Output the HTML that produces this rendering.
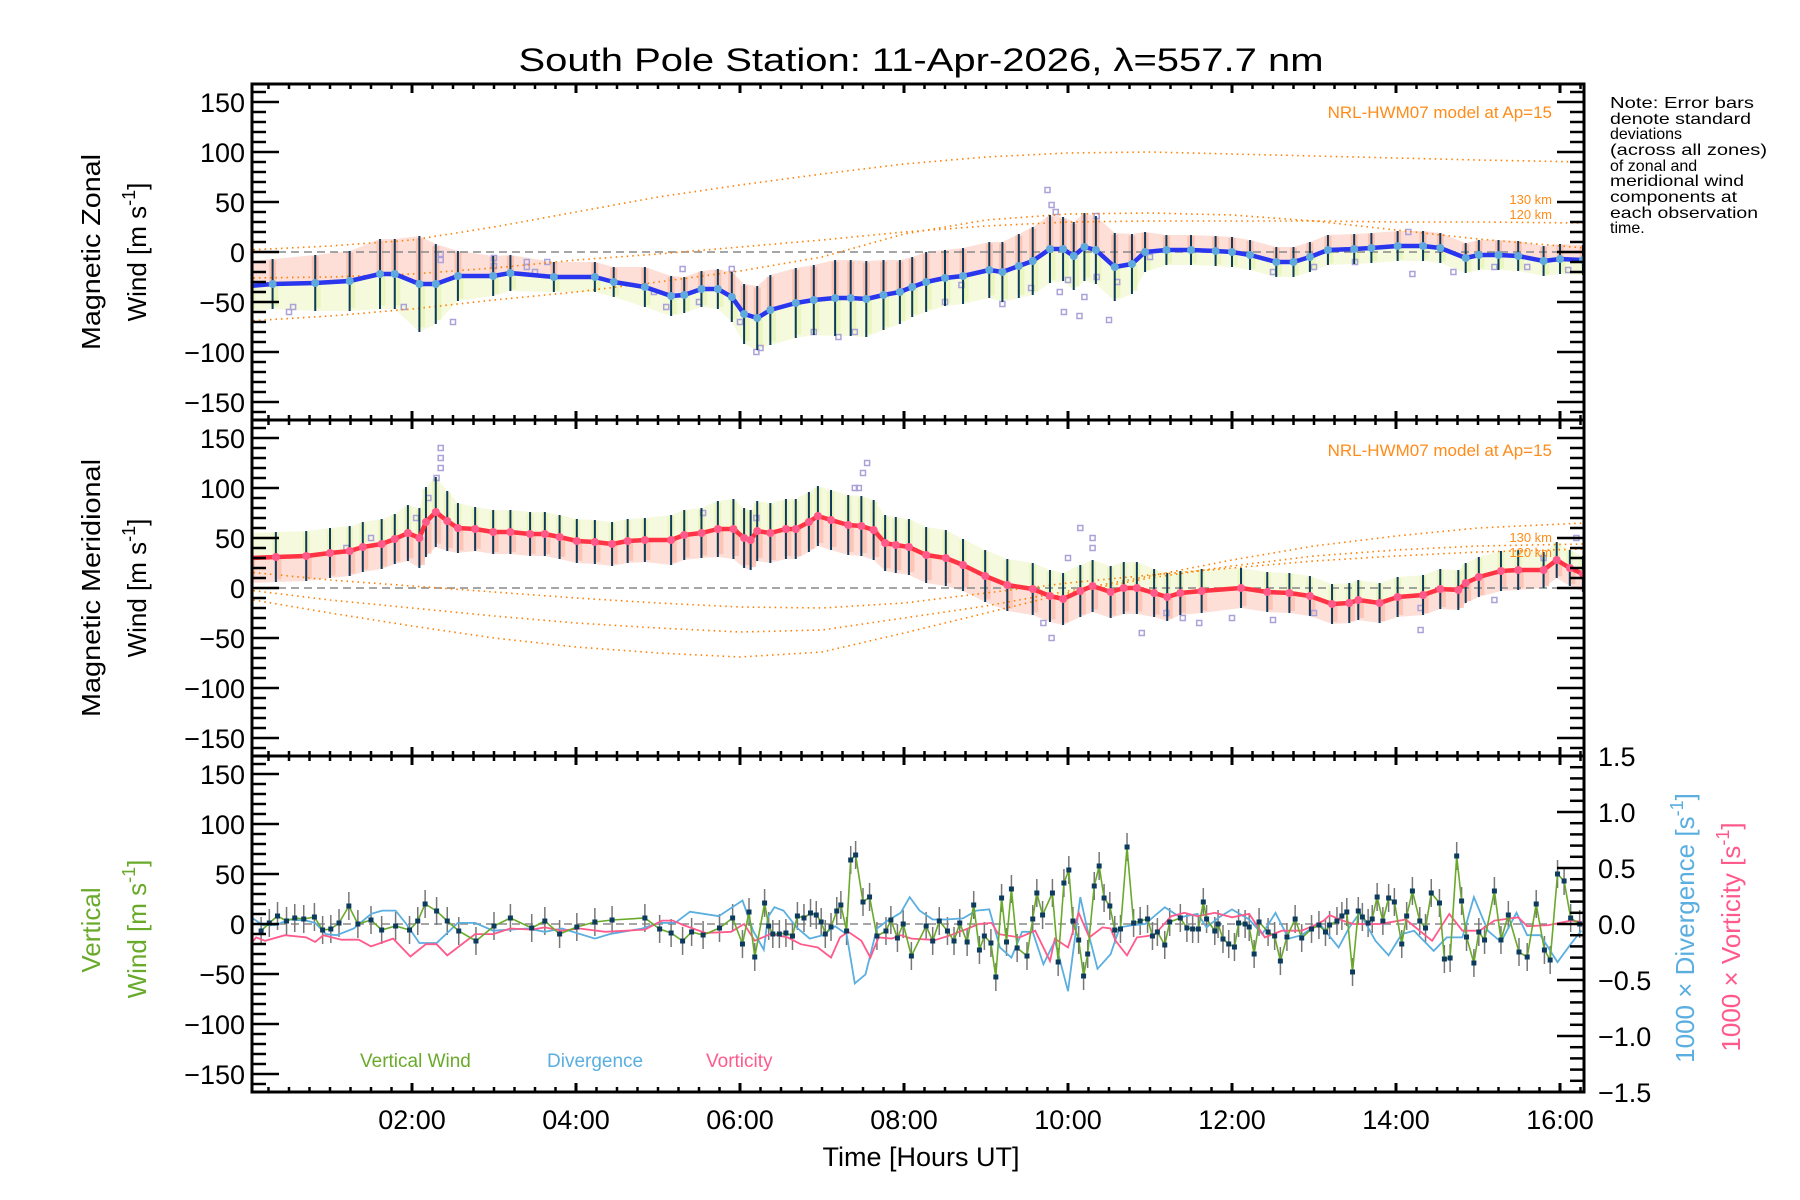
<!DOCTYPE html>
<html><head><meta charset="utf-8"><title>South Pole Station winds</title>
<style>
html,body{margin:0;padding:0;background:#fff;}
svg{display:block;font-family:"Liberation Sans",sans-serif;}
</style></head>
<body>
<svg id="chart" width="1800" height="1200" viewBox="0 0 1800 1200" xmlns="http://www.w3.org/2000/svg">
<defs>
<clipPath id="c1"><rect x="252" y="84" width="1332" height="336"/></clipPath>
<clipPath id="c2"><rect x="252" y="420" width="1332" height="336"/></clipPath>
<clipPath id="c3"><rect x="252" y="756" width="1332" height="336"/></clipPath>
</defs>
<text x="921" y="71" font-size="32" text-anchor="middle" textLength="805" lengthAdjust="spacingAndGlyphs">South Pole Station: 11-Apr-2026, λ=557.7 nm</text>

<g id="p1"></g>
<g id="p2"></g>
<g id="p3"></g>
<g id="axes"></g>

<text transform="translate(100,252) rotate(-90)" font-size="26" text-anchor="middle" textLength="196" lengthAdjust="spacingAndGlyphs">Magnetic Zonal</text>
<text transform="translate(146,252) rotate(-90)" font-size="26" text-anchor="middle">Wind [m s<tspan dy="-11" font-size="18">-1</tspan><tspan dy="11">]</tspan></text>
<text transform="translate(100,588) rotate(-90)" font-size="26" text-anchor="middle" textLength="258" lengthAdjust="spacingAndGlyphs">Magnetic Meridional</text>
<text transform="translate(146,588) rotate(-90)" font-size="26" text-anchor="middle">Wind [m s<tspan dy="-11" font-size="18">-1</tspan><tspan dy="11">]</tspan></text>
<text transform="translate(100,930) rotate(-90)" font-size="26" fill="#6aaa2a" text-anchor="middle">Vertical</text>
<text transform="translate(146,929) rotate(-90)" font-size="26" fill="#6aaa2a" text-anchor="middle">Wind [m s<tspan dy="-11" font-size="18">-1</tspan><tspan dy="11">]</tspan></text>
<text transform="translate(1694,928) rotate(-90)" font-size="26" fill="#5aaee0" text-anchor="middle">1000 × Divergence [s<tspan dy="-11" font-size="18">-1</tspan><tspan dy="11">]</tspan></text>
<text transform="translate(1740,937) rotate(-90)" font-size="26" fill="#ff5a8c" text-anchor="middle">1000 × Vorticity [s<tspan dy="-11" font-size="18">-1</tspan><tspan dy="11">]</tspan></text>
<text x="921" y="1166" font-size="27" text-anchor="middle">Time [Hours UT]</text>

<text x="1552" y="118" font-size="17" fill="#ff8c1a" text-anchor="end">NRL-HWM07 model at Ap=15</text>
<text x="1552" y="204" font-size="13" fill="#ff8c1a" text-anchor="end">130 km</text>
<text x="1552" y="219" font-size="13" fill="#ff8c1a" text-anchor="end">120 km</text>
<text x="1552" y="456" font-size="17" fill="#ff8c1a" text-anchor="end">NRL-HWM07 model at Ap=15</text>
<text x="1552" y="542" font-size="13" fill="#ff8c1a" text-anchor="end">130 km</text>
<text x="1552" y="557" font-size="13" fill="#ff8c1a" text-anchor="end">120 km</text>

<text x="360" y="1067" font-size="19" fill="#6aaa2a">Vertical Wind</text>
<text x="547" y="1067" font-size="19" fill="#5aaee0">Divergence</text>
<text x="706" y="1067" font-size="19" fill="#ff5a8c">Vorticity</text>

<g font-size="16" fill="#000">
<text x="1610" y="108" textLength="144" lengthAdjust="spacingAndGlyphs">Note: Error bars</text>
<text x="1610" y="124" textLength="141" lengthAdjust="spacingAndGlyphs">denote standard</text>
<text x="1610" y="139">deviations</text>
<text x="1610" y="155" textLength="157" lengthAdjust="spacingAndGlyphs">(across all zones)</text>
<text x="1610" y="171">of zonal and</text>
<text x="1610" y="186" textLength="134" lengthAdjust="spacingAndGlyphs">meridional wind</text>
<text x="1610" y="202" textLength="127" lengthAdjust="spacingAndGlyphs">components at</text>
<text x="1610" y="218" textLength="148" lengthAdjust="spacingAndGlyphs">each observation</text>
<text x="1610" y="233">time.</text>
</g>
</svg>

<script>
// ---------- data ----------
const zonalT = [0.02,0.3,0.82,1.24,1.61,1.79,2.09,2.29,2.56,2.99,3.2,3.73,4.23,4.46,4.84,5.16,5.32,5.53,5.73,5.9,6.05,6.21,6.37,6.68,6.9,7.16,7.35,7.54,7.75,7.95,8.1,8.27,8.5,8.72,9.04,9.2,9.4,9.57,9.78,9.94,10.07,10.2,10.34,10.57,10.78,10.94,11.2,11.5,11.8,12.0,12.22,12.54,12.75,12.95,13.17,13.49,13.7,14.02,14.33,14.54,14.85,15.01,15.25,15.49,15.8,16.0,16.28];
const zonalV = [-34,-32,-31,-29,-22,-22,-32,-32,-24,-24,-21,-25,-25,-30,-35,-44,-43,-37,-37,-45,-62,-66,-58,-51,-48,-46,-46,-47,-43,-40,-35,-30,-26,-24,-18,-20,-14,-9,3,3,-4,5,2,-15,-12,0,2,2,1,0,-3,-10,-10,-5,2,3,4,6,6,4,-6,-3,-3,-4,-9,-7,-8];
const zonalStd = [25,25,28,30,35,35,48,40,25,20,18,15,15,15,20,20,18,18,20,25,30,32,35,35,35,38,38,38,35,32,30,30,28,28,28,30,32,34,34,32,34,34,34,34,30,20,15,15,15,15,15,15,15,15,15,15,15,15,15,15,15,15,15,15,15,15,15];

const merT = [0.02,0.34,0.71,1.0,1.24,1.4,1.63,1.79,1.95,2.09,2.17,2.29,2.43,2.56,2.77,2.99,3.2,3.44,3.62,3.8,4.01,4.23,4.44,4.63,4.84,5.16,5.32,5.53,5.73,5.92,6.05,6.13,6.21,6.37,6.56,6.68,6.84,6.95,7.11,7.32,7.48,7.63,7.77,7.9,8.06,8.27,8.51,8.72,8.99,9.26,9.57,9.78,9.94,10.15,10.3,10.52,10.68,10.84,11.05,11.21,11.37,11.63,12.11,12.43,12.7,12.95,13.22,13.43,13.54,13.8,14.02,14.33,14.54,14.76,14.85,15.01,15.28,15.49,15.8,15.96,16.12,16.28];
const merV = [30,31,32,35,37,41,44,49,55,50,66,76,67,60,59,56,56,54,54,51,47,46,44,47,48,48,53,55,59,59,50,48,57,55,59,59,66,72,68,63,62,58,45,43,41,33,30,23,12,3,-1,-8,-11,-3,2,-4,0,0,-5,-9,-5,-3,0,-4,-5,-8,-16,-15,-12,-15,-9,-7,-1,-2,5,11,17,18,18,28,20,14];
const merStd = [25,25,25,25,25,25,25,25,28,30,35,35,30,25,22,22,22,22,22,22,22,22,22,22,22,25,25,25,28,30,30,30,30,30,30,30,30,30,30,30,30,30,28,28,28,28,28,26,26,26,26,26,26,26,26,26,26,26,24,24,22,22,20,20,20,20,20,20,20,20,20,20,20,20,20,20,20,20,18,18,18,18];

const zonalOutT = [0.5,0.55,1.9,2.35,2.35,2.5,3.0,3.0,3.4,3.4,3.5,3.65,4.95,5.1,5.3,5.5,5.9,6.0,6.2,6.25,6.9,7.2,7.4,8.5,8.7,9.2,9.55,9.75,9.8,9.85,9.9,9.95,10.0,10.14,10.2,10.35,10.35,10.5,10.6,11.0,12.5,13.0,13.5,14.15,14.2,14.7,15.2,15.6,16.1];
const zonalOutV = [-60,-55,-55,-2,-8,-70,-6,-14,-15,-10,-20,-10,-40,-55,-17,-50,-17,-70,-100,-96,-80,-85,-80,-50,-33,-52,-36,62,47,40,-40,-60,-28,-64,-45,-25,36,-68,-30,-5,-20,-15,-10,20,-22,-20,-15,-15,-18];
const merOutT = [1.2,1.5,2.05,2.2,2.3,2.35,2.35,2.35,5.55,6.2,7.4,7.45,7.5,7.55,9.7,9.8,10.0,10.15,10.3,10.3,10.9,11.2,11.4,11.6,12.0,12.5,13.0,14.3,14.3,15.2,15.8,16.2];
const merOutV = [40,50,70,90,110,120,130,140,75,70,100,100,115,125,-35,-50,30,60,50,40,-45,-25,-30,-35,-30,-32,-25,-20,-42,-12,30,50];

const modelT = [0,1,2,3,4,5,6,7,8,9,10,11,12,13,14,15,16.3];
const zonalModelA = [2,6,12,25,40,55,67,78,88,95,99,100,98,96,94,92,90];
const zonalModelB = [-69,-64,-57,-48,-40,-30,-19,-5,18,32,38,39,37,31,22,13,4];
const zonalModelC = [-26,-25,-22,-16,-8,-2,5,12,20,26,30,31,31,31,30,30,29];
const merModelP = [16,8,2,-4,-10,-15,-19,-20,-15,-5,5,13,20,27,32,36,39];
const merModelQ = [-2,-12,-20,-28,-35,-40,-44,-42,-30,-18,-3,12,28,42,52,60,65];
const merModelR = [-11,-25,-38,-50,-59,-65,-69,-64,-45,-25,-5,10,22,32,38,42,44];

const vertT = [0.16,0.26,0.36,0.47,0.57,0.68,0.81,0.91,1.01,1.11,1.23,1.34,1.50,1.63,1.80,1.97,2.07,2.16,2.30,2.43,2.57,2.78,3.00,3.20,3.46,3.62,3.80,4.01,4.23,4.44,4.84,5.02,5.16,5.30,5.41,5.55,5.75,5.91,6.03,6.11,6.18,6.30,6.35,6.40,6.48,6.56,6.64,6.70,6.78,6.86,6.93,6.99,7.04,7.11,7.18,7.23,7.30,7.35,7.41,7.50,7.58,7.67,7.78,7.84,7.92,7.99,8.09,8.27,8.35,8.43,8.53,8.61,8.68,8.77,8.85,8.92,8.98,9.06,9.12,9.19,9.25,9.31,9.38,9.50,9.57,9.62,9.69,9.81,9.88,9.95,10.01,10.06,10.13,10.19,10.24,10.32,10.38,10.44,10.51,10.57,10.64,10.72,10.80,10.88,10.97,11.03,11.09,11.18,11.24,11.37,11.45,11.52,11.59,11.65,11.69,11.79,11.83,11.89,11.96,12.03,12.08,12.16,12.21,12.27,12.33,12.44,12.52,12.59,12.67,12.77,12.85,12.97,13.06,13.14,13.19,13.28,13.34,13.40,13.47,13.54,13.59,13.66,13.71,13.77,13.84,13.91,13.98,14.07,14.13,14.20,14.29,14.36,14.43,14.53,14.59,14.66,14.74,14.80,14.86,14.95,15.01,15.08,15.20,15.28,15.37,15.50,15.60,15.71,15.81,15.88,15.97,16.05,16.13,16.24];
const vertV = [-7,1,8,3,6,5,7,-6,-5,1,18,0,4,-6,-2,-6,3,20,13,3,-7,-17,-2,6,-4,3,-10,-3,2,4,6,-5,-9,-17,-8,-11,-4,6,-20,12,-33,21,-2,-10,-10,-9,-12,8,6,11,9,2,-10,-3,13,19,-7,64,69,22,27,-12,-7,4,-14,0,-32,-2,-17,3,-7,-17,1,-18,19,-26,-12,-19,-53,26,-18,35,-24,-32,5,31,9,31,-38,41,54,3,-16,-52,-30,38,58,26,18,-6,-5,77,1,3,5,-12,-8,-21,2,6,-4,-5,-5,22,5,-7,0,-15,-20,-23,1,0,-3,-30,2,-8,-12,-37,-13,5,-14,-5,-1,-8,-1,3,8,12,-48,13,7,1,5,27,3,26,22,-20,8,33,3,-4,31,21,-35,-34,68,23,-13,-39,-8,-16,33,-16,9,-28,-33,20,-26,-36,50,43,6,0];
const vertErr = 14;

const divT = [0.02,0.18,0.34,0.50,0.71,0.82,0.95,1.08,1.29,1.50,1.64,1.80,1.93,2.09,2.30,2.56,2.77,2.99,3.2,3.41,3.62,3.83,4.23,4.41,4.81,5.0,5.21,5.39,5.74,6.03,6.16,6.29,6.34,6.42,6.53,6.69,6.85,7.01,7.16,7.30,7.40,7.53,7.67,7.80,7.96,8.07,8.19,8.35,8.51,8.72,8.88,9.04,9.17,9.31,9.44,9.57,9.70,9.84,10.0,10.15,10.23,10.36,10.52,10.63,10.79,10.94,11.18,11.37,11.58,11.69,11.84,12.0,12.21,12.37,12.53,12.69,12.85,13.06,13.30,13.43,13.56,13.75,13.91,14.07,14.22,14.46,14.62,14.81,14.95,15.12,15.28,15.47,15.60,15.76,15.97,16.13,16.26];
const divV = [0.07,-0.01,-0.01,0.04,0.03,0.01,-0.09,-0.10,-0.04,0.09,0.12,0.12,0,-0.17,-0.17,0.01,0.01,-0.06,-0.05,-0.04,-0.07,-0.04,-0.13,-0.09,-0.04,0.01,0.01,0.11,0.07,0.21,-0.06,-0.23,0.06,0.15,0.12,-0.03,-0.13,-0.10,-0.02,-0.09,-0.53,-0.45,-0.04,0.03,0.10,0.24,0.12,0.04,0.04,0.05,0.12,0.13,-0.21,-0.30,-0.07,-0.07,-0.36,-0.15,-0.60,0.24,-0.03,-0.40,-0.27,-0.03,-0.01,0,0.15,0.06,0.09,-0.03,0.06,0.13,0.04,-0.09,0.10,-0.13,-0.10,0.01,-0.21,-0.03,0.10,-0.15,-0.28,-0.09,-0.06,-0.24,-0.12,-0.12,0.24,-0.06,-0.16,0.10,-0.10,-0.10,-0.34,-0.18,-0.06];

const vortT = [0.02,0.10,0.21,0.45,0.71,0.82,0.92,1.14,1.35,1.50,1.77,1.98,2.17,2.30,2.43,2.77,2.99,3.2,3.46,3.62,3.83,4.04,4.36,4.84,5.05,5.18,5.31,5.58,5.89,6.05,6.18,6.37,6.58,6.74,6.95,7.11,7.22,7.32,7.48,7.59,7.69,7.85,7.96,8.09,8.32,8.35,8.57,8.78,8.91,9.07,9.15,9.41,9.60,9.78,9.84,10.0,10.13,10.26,10.42,10.52,10.58,10.72,10.84,11.05,11.26,11.42,11.58,11.79,12.0,12.21,12.40,12.61,12.85,12.98,13.12,13.19,13.35,13.48,13.80,13.96,14.12,14.44,14.65,14.81,15.02,15.20,15.49,15.60,15.86,16.13,16.26];
const vortV = [-0.19,-0.12,-0.15,-0.10,-0.12,-0.16,-0.10,-0.14,-0.14,-0.20,-0.13,-0.29,-0.18,-0.18,-0.28,-0.09,-0.09,-0.04,-0.05,-0.03,-0.06,-0.04,-0.07,-0.05,0.03,0.03,-0.01,-0.08,-0.07,0,-0.15,-0.09,-0.12,-0.18,-0.21,-0.30,-0.12,-0.07,-0.15,-0.30,-0.12,-0.13,-0.10,-0.13,-0.14,-0.15,-0.10,-0.04,0,0.01,-0.09,-0.12,-0.06,-0.33,-0.13,-0.21,0.10,-0.12,-0.03,-0.04,-0.15,-0.28,-0.12,-0.10,0.07,0.10,0.07,0.10,0.06,0.09,-0.12,-0.06,-0.06,-0.02,0.03,0.08,0.03,0,0,0.02,0.04,-0.15,0.09,-0.06,-0.06,0.03,0.06,-0.02,-0.01,0.03,0.02];

const timeTicks = ["02:00","04:00","06:00","08:00","10:00","12:00","14:00","16:00"];
const timeTickHours = [2,4,6,8,10,12,14,16];
const leftTicks = [150,100,50,0,-50,-100,-150];
const rightTicks = [1.5,1.0,0.5,0.0,-0.5,-1.0,-1.5];

// ---------- scales ----------
const X0 = 252, X1 = 1584;
const panelTop = [84,420,756];
const panelMid = [252,588,924];
function xS(t){ return 248 + t*82; }
function yS(p,v){ return panelMid[p] - v; }
function yR(d){ return 924 - d*112; }

const NS = "http://www.w3.org/2000/svg";
function mk(tag, attrs, parent){
  const e = document.createElementNS(NS, tag);
  for (const k in attrs) e.setAttribute(k, attrs[k]);
  parent.appendChild(e);
  return e;
}
function pathD(xs, ys){ return xs.map((x,i)=>(i?"L":"M")+x.toFixed(1)+","+ys[i].toFixed(1)).join(""); }

function drawWindPanel(p, gid, T, V, S, outT, outV, models, lineCol, dotCol, upperCol, lowerCol){
  const g = mk("g", {"clip-path":"url(#c"+(p+1)+")"}, document.getElementById(gid));
  // continuous pastel spread bands
  const xs = T.map(xS);
  const up = V.map((v,i)=>yS(p,v+S[i]));
  const mid = V.map(v=>yS(p,v));
  const lo = V.map((v,i)=>yS(p,v-S[i]));
  const bandU = mk("path", {d:pathD(xs.concat(xs.slice().reverse()), up.concat(mid.slice().reverse()))+"Z", fill:upperCol, opacity:0.45}, g);
  
  
  const bandL = mk("path", {d:pathD(xs.concat(xs.slice().reverse()), mid.concat(lo.slice().reverse()))+"Z", fill:lowerCol, opacity:0.45}, g);
  
  
  for (let i=0;i<T.length;i++){
    const x = xS(T[i]);
    const w = 7;
    const r1 = mk("rect", {x:x-w/2, y:yS(p,V[i]+S[i]*0.95), width:w, height:S[i]*0.95, fill:upperCol, opacity:0.75}, g);
    
    
    const r2 = mk("rect", {x:x-w/2+2, y:yS(p,V[i]), width:w, height:S[i]*0.9, fill:lowerCol, opacity:0.7}, g);
    
    
  }
  for (let i=0;i<outT.length;i++){
    const s = mk("rect", {x:xS(outT[i])-2.5, y:yS(p,outV[i])-2.5, width:5, height:5, fill:"none", stroke:"#aaa2d8", "stroke-width":1.5}, g);
    
    
  }
  const z = mk("line", {x1:X0, x2:X1, y1:yS(p,0), y2:yS(p,0), stroke:"#888", "stroke-width":1.5, "stroke-dasharray":"8,5"}, g);
  
  
  models.forEach(m=>{
    const c = mk("path", {d:pathD(modelT.map(xS), m.map(v=>yS(p,v))), fill:"none", stroke:"#ff7f00", "stroke-width":1.6, "stroke-dasharray":"1.5,4"}, g);
    
    
  });
  for (let i=0;i<T.length;i++){
    const x = xS(T[i]);
    const b = mk("line", {x1:x, x2:x, y1:yS(p,V[i]-S[i]), y2:yS(p,V[i]+S[i]), stroke:"#0d3b5e", "stroke-width":2}, g);
    
    
  }
  const ln = mk("path", {d:pathD(T.map(xS), V.map(v=>yS(p,v))), fill:"none", stroke:lineCol, "stroke-width":4.5, "stroke-linejoin":"round"}, g);
  
  
  for (let i=0;i<T.length;i++){
    const c = mk("circle", {cx:xS(T[i]), cy:yS(p,V[i]), r:4, fill:dotCol}, g);
    
    
  }
}

drawWindPanel(0, "p1", zonalT, zonalV, zonalStd, zonalOutT, zonalOutV, [zonalModelA, zonalModelB, zonalModelC], "#2a35ee", "#5fa9dc", "#fbb9a6", "#e6f4b0");
drawWindPanel(1, "p2", merT, merV, merStd, merOutT, merOutV, [merModelP, merModelQ, merModelR], "#ff3344", "#ff5a8a", "#e9f3b5", "#fbb9a6");

(function(){
  const g = mk("g", {"clip-path":"url(#c3)"}, document.getElementById("p3"));
  const z = mk("line", {x1:X0, x2:X1, y1:yS(2,0), y2:yS(2,0), stroke:"#888", "stroke-width":1.5, "stroke-dasharray":"8,5"}, g);
  
  
  for (let i=0;i<vertT.length;i++){
    const x = xS(vertT[i]);
    const e = mk("line", {x1:x, x2:x, y1:yS(2,vertV[i]-vertErr), y2:yS(2,vertV[i]+vertErr), stroke:"#777", "stroke-width":1.5}, g);
    
    
  }
  const dv = mk("path", {d:pathD(divT.map(xS), divV.map(yR)), fill:"none", stroke:"#5aaee0", "stroke-width":1.8}, g);
  
  
  const vo = mk("path", {d:pathD(vortT.map(xS), vortV.map(yR)), fill:"none", stroke:"#ff5a8c", "stroke-width":1.8}, g);
  
  
  const vw = mk("path", {d:pathD(vertT.map(xS), vertV.map(v=>yS(2,v))), fill:"none", stroke:"#6aaa2a", "stroke-width":1.6}, g);
  
  
  for (let i=0;i<vertT.length;i++){
    const r = mk("rect", {x:xS(vertT[i])-2.5, y:yS(2,vertV[i])-2.5, width:5, height:5, fill:"#0d3b5e"}, g);
    
    
  }
})();

(function(){
  const ax = document.getElementById("axes");
  for (let p=0;p<3;p++){
    const top = panelTop[p], bot = top+336;
    for (let q=1; q*0.25<16.3; q++){
      const h = q*0.25, x = xS(h);
      if (x<=X0 || x>=X1) continue;
      const major = (q%8===0);
      const len = major ? 9 : 5;
      const w = major ? 3 : 2.5;
      const a = mk("line", {x1:x, x2:x, y1:top, y2:top+len, stroke:"#000", "stroke-width":w}, ax);
      
      
      const b = mk("line", {x1:x, x2:x, y1:bot, y2:bot-len, stroke:"#000", "stroke-width":w}, ax);
      
      
    }
    for (let v=-160; v<=160; v+=10){
      const y = yS(p,v);
      if (y<=top+1 || y>=bot-1) continue;
      const major = (v%50===0);
      const len = major ? 27 : 14;
      const t = mk("line", {x1:X0, x2:X0+len, y1:y, y2:y, stroke:"#000", "stroke-width":2.5}, ax);
      
      
      if (p<2){
        const t2 = mk("line", {x1:X1, x2:X1-len, y1:y, y2:y, stroke:"#000", "stroke-width":2.5}, ax);
        
        
      }
    }
    leftTicks.forEach(v=>{
      const lab = mk("text", {x:245, y:yS(p,v)+10, "font-size":27, "text-anchor":"end"}, ax);
      lab.textContent = (v<0 ? "\u2212"+(-v) : String(v));
      
      
    });
    const f = mk("rect", {x:X0, y:top, width:X1-X0, height:336, fill:"none", stroke:"#000", "stroke-width":3}, ax);
    
    
  }
  for (let k=-15;k<=15;k++){
    const y = yR(k/10);
    if (y<=757 || y>=1091) continue;
    const major = (k%5===0);
    const len = major ? 27 : 14;
    const t = mk("line", {x1:X1, x2:X1-len, y1:y, y2:y, stroke:"#000", "stroke-width":2.5}, ax);
    
    
  }
  rightTicks.forEach(d=>{
    const lab = mk("text", {x:1598, y:yR(d)+10, "font-size":27}, ax);
    lab.textContent = (d<0 ? "\u2212"+(-d).toFixed(1) : d.toFixed(1));
    
    
  });
  timeTicks.forEach((s,i)=>{
    const lab = mk("text", {x:xS(timeTickHours[i]), y:1129, "font-size":27, "text-anchor":"middle"}, ax);
    lab.textContent = s;
    
    
  });
})();
</script>
</body></html>
